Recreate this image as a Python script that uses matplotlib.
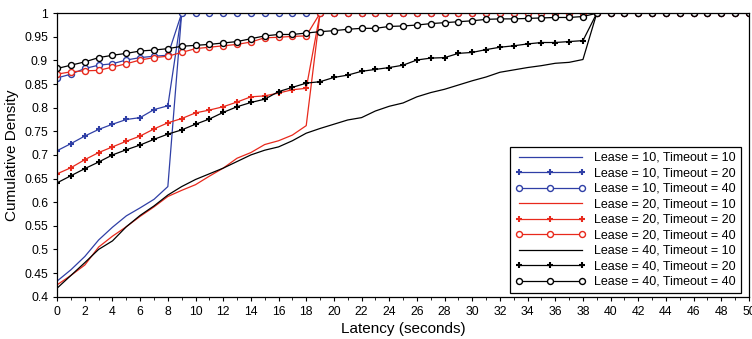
import numpy as np
import matplotlib.pyplot as plt
from matplotlib.ticker import MultipleLocator

plt.rcParams['font.family'] = ['Liberation Sans', 'DejaVu Sans']

latency = list(range(0, 51))

# values before the jump to 1.0
l10_t10 = [0.433, 0.457, 0.485, 0.520, 0.547, 0.571, 0.588, 0.606, 0.633]
l10_t20 = [0.709, 0.724, 0.740, 0.754, 0.765, 0.775, 0.779, 0.796, 0.804]
l10_t40 = [0.863, 0.871, 0.883, 0.890, 0.893, 0.901, 0.906, 0.909, 0.911]
l20_t10 = [0.425, 0.445, 0.467, 0.505, 0.528, 0.548, 0.570, 0.590, 0.612, 0.625,
           0.637, 0.655, 0.672, 0.693, 0.705, 0.722, 0.730, 0.742, 0.762]
l20_t20 = [0.660, 0.673, 0.690, 0.705, 0.717, 0.729, 0.740, 0.755, 0.768, 0.777,
           0.789, 0.795, 0.802, 0.812, 0.823, 0.825, 0.831, 0.838, 0.841]
l20_t40 = [0.871, 0.876, 0.878, 0.879, 0.886, 0.893, 0.901, 0.906, 0.909, 0.917,
           0.925, 0.928, 0.931, 0.934, 0.939, 0.948, 0.949, 0.951, 0.952]
l40_t10 = [0.418, 0.445, 0.472, 0.500, 0.518, 0.548, 0.572, 0.592, 0.615, 0.633,
           0.648, 0.660, 0.672, 0.686, 0.700, 0.710, 0.717, 0.730, 0.746, 0.756,
           0.765, 0.774, 0.779, 0.793, 0.803, 0.810, 0.823, 0.832, 0.839, 0.848,
           0.857, 0.865, 0.875, 0.880, 0.885, 0.889, 0.894, 0.896, 0.902]
l40_t20 = [0.641, 0.656, 0.671, 0.685, 0.700, 0.711, 0.721, 0.733, 0.744, 0.753,
           0.765, 0.776, 0.790, 0.802, 0.811, 0.818, 0.834, 0.843, 0.852, 0.855,
           0.864, 0.869, 0.877, 0.881, 0.885, 0.890, 0.901, 0.905, 0.906, 0.915,
           0.917, 0.923, 0.928, 0.931, 0.935, 0.938, 0.938, 0.940, 0.942]
l40_t40 = [0.883, 0.890, 0.897, 0.906, 0.911, 0.915, 0.920, 0.922, 0.925, 0.930,
           0.932, 0.934, 0.937, 0.940, 0.946, 0.952, 0.955, 0.955, 0.958, 0.961,
           0.963, 0.966, 0.968, 0.968, 0.972, 0.973, 0.975, 0.978, 0.980, 0.982,
           0.984, 0.987, 0.988, 0.988, 0.989, 0.990, 0.991, 0.991, 0.993]

y_ticks = [0.4, 0.45, 0.5, 0.55, 0.6, 0.65, 0.7, 0.75, 0.8, 0.85, 0.9, 0.95, 1.0]
y_labels = ['0.4', '0.45', '0.5', '0.55', '0.6', '0.65', '0.7', '0.75',
            '0.8', '0.85', '0.9', '0.95', '1']

def full(vals):
    return vals + [1.0] * (len(latency) - len(vals))

blue = '#2f3fa6'
red = '#e8291c'
black = '#000000'

series = [
    (l10_t10, blue, None, 'Lease = 10, Timeout = 10'),
    (l10_t20, blue, '+', 'Lease = 10, Timeout = 20'),
    (l10_t40, blue, 'o', 'Lease = 10, Timeout = 40'),
    (l20_t10, red, None, 'Lease = 20, Timeout = 10'),
    (l20_t20, red, '+', 'Lease = 20, Timeout = 20'),
    (l20_t40, red, 'o', 'Lease = 20, Timeout = 40'),
    (l40_t10, black, None, 'Lease = 40, Timeout = 10'),
    (l40_t20, black, '+', 'Lease = 40, Timeout = 20'),
    (l40_t40, black, 'o', 'Lease = 40, Timeout = 40'),
]

fig = plt.figure(figsize=(7.52, 3.39), dpi=100)
ax = fig.add_axes([0.076, 0.125, 0.920, 0.836])

for vals, col, mk, lab in series:
    if mk == 'o':
        ax.plot(latency, full(vals), color=col, lw=0.9, marker='o', ms=4.3,
                mfc='white', mec=col, mew=1.0, label=lab)
    elif mk == '+':
        ax.plot(latency, full(vals), color=col, lw=0.9, marker='+', ms=4,
                mew=1.5, label=lab)
    else:
        ax.plot(latency, full(vals), color=col, lw=0.9, label=lab)

ax.set_xlim(0, 50)
ax.set_ylim(0.4, 1.0)
ax.xaxis.set_major_locator(MultipleLocator(2))
ax.xaxis.set_minor_locator(MultipleLocator(1))
ax.set_yticks(y_ticks)
ax.set_yticklabels(y_labels)
ax.tick_params(axis='both', which='major', labelsize=8.8, length=3, direction='out')
ax.tick_params(axis='x', which='minor', length=2, direction='out')
for s in ax.spines.values():
    s.set_linewidth(0.9)

ax.set_xlabel('Latency (seconds)', fontsize=11, labelpad=3)
ax.set_ylabel('Cumulative Density', fontsize=11, labelpad=4)

leg = ax.legend(loc='lower right', bbox_to_anchor=(0.988, 0.013), borderaxespad=0,
                fontsize=9, numpoints=3, handlelength=5.6, handletextpad=0.7,
                labelspacing=0.28, fancybox=False, framealpha=1, borderpad=0.4)
leg.get_frame().set_edgecolor('black')
leg.get_frame().set_linewidth(0.9)

fig.savefig('out.png', dpi=100)
